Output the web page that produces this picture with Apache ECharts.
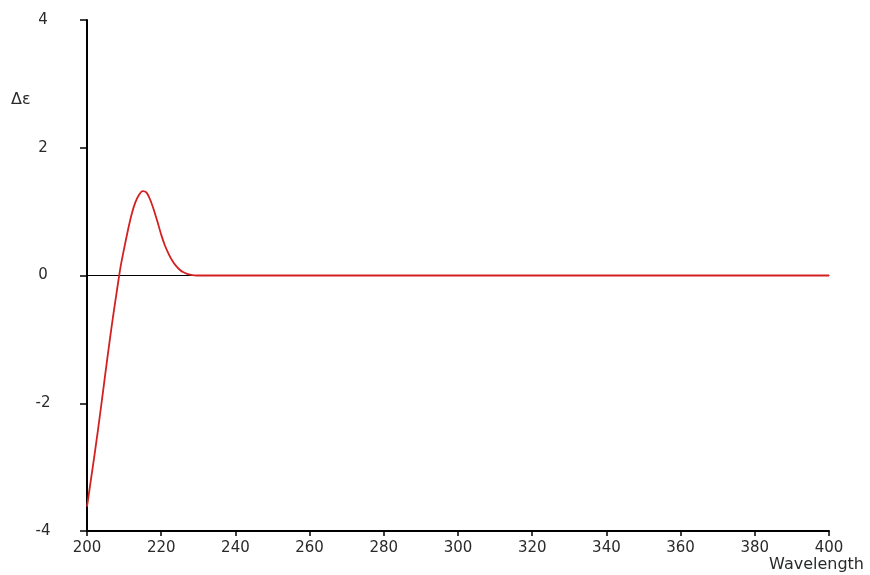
<!DOCTYPE html>
<html>
<head>
<meta charset="utf-8">
<script src="https://cdn.jsdelivr.net/npm/echarts@6/dist/echarts.min.js"></script>
<style>
  html, body { margin: 0; padding: 0; background: #fff; }
  #main { width: 870px; height: 575px; }
</style>
</head>
<body>
<div id="main"></div>
<script>
// wavelength (nm) and delta epsilon
var wavelengths = [200, 201, 202, 203, 204, 205, 206, 207, 208, 209, 210,
  211, 212, 213, 214, 215, 216, 217, 218, 219, 220,
  221, 222, 223, 224, 225, 226, 227, 228, 229, 230, 400];
var deltaEps = [-3.62, -3.22, -2.82, -2.40, -1.96, -1.51, -1.07, -0.65, -0.26, 0.12, 0.42,
  0.70, 0.95, 1.14, 1.26, 1.32, 1.30, 1.19, 1.03, 0.84, 0.64,
  0.47, 0.34, 0.23, 0.15, 0.09, 0.05, 0.025, 0.01, 0.003, 0, 0];
var xTicks = [200, 220, 240, 260, 280, 300, 320, 340, 360, 380, 400];
var yTicks = [-4, -2, 0, 2, 4];

var points = wavelengths.map(function (w, i) { return [w, deltaEps[i]]; });

var font = 'DejaVu Sans';
var chart = echarts.init(document.getElementById('main'));
var option = {
  animation: false,
  backgroundColor: '#fff',
  grid: { left: 87, right: 41, top: 20, bottom: 44 },
  xAxis: [
    {
      type: 'value',
      min: xTicks[0],
      max: xTicks[xTicks.length - 1],
      interval: 20,
      axisLine: { onZero: false, lineStyle: { color: '#000', width: 2 } },
      axisTick: { show: true, length: 5, lineStyle: { color: '#000', width: 1.5 } },
      axisLabel: { color: '#2a2a2a', fontFamily: font, fontSize: 15, margin: 10 },
      splitLine: { show: false }
    },
    {
      // zero line across the plot
      type: 'value',
      min: xTicks[0],
      max: xTicks[xTicks.length - 1],
      position: 'bottom',
      axisLine: { onZero: true, lineStyle: { color: '#000', width: 1 } },
      axisTick: { show: false },
      axisLabel: { show: false },
      splitLine: { show: false }
    }
  ],
  yAxis: {
    type: 'value',
    min: yTicks[0],
    max: yTicks[yTicks.length - 1],
    interval: 2,
    axisLine: { show: true, lineStyle: { color: '#000', width: 2 } },
    axisTick: { show: true, length: 7, lineStyle: { color: '#000', width: 1.5 } },
    axisLabel: { color: '#2a2a2a', fontFamily: font, fontSize: 15, margin: 44, align: 'center' },
    splitLine: { show: false }
  },
  graphic: [
    {
      type: 'text', left: 11, top: 92,
      style: { text: 'Δε', fill: '#2a2a2a', font: '16px "DejaVu Sans"' }
    },
    {
      type: 'text', right: 6, top: 557,
      style: { text: 'Wavelength', fill: '#2a2a2a', font: '16px "DejaVu Sans"' }
    }
  ],
  series: [
    {
      type: 'line',
      xAxisIndex: 0,
      data: points,
      smooth: 0.2,
      showSymbol: false,
      lineStyle: { color: '#d42020', width: 1.8 }
    }
  ]
};
chart.setOption(option);
</script>
</body>
</html>
